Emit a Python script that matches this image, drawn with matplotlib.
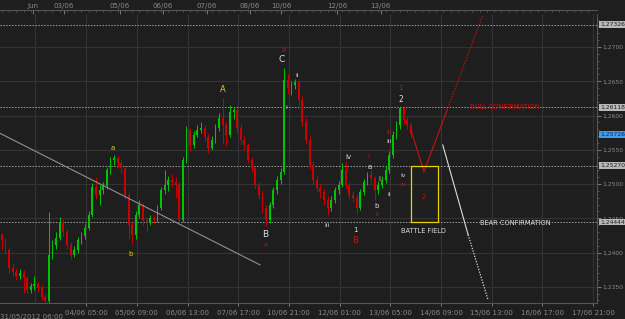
import matplotlib
matplotlib.use('Agg')
import matplotlib.pyplot as plt
import numpy as np

# 2-hour candles, EURUSD-like, 31/05/2012 .. 13/06/2012
first_open = 1.2426
closes = [1.2418, 1.2404, 1.2377, 1.2372, 1.2366, 1.2370, 1.2363, 1.2345, 1.2351, 1.2354,
          1.2348, 1.2335, 1.2329, 1.2396, 1.2411, 1.2421, 1.2445, 1.2430, 1.2411, 1.2396,
          1.2404, 1.2418, 1.2424, 1.2436, 1.2455, 1.2496, 1.2484, 1.2491, 1.2497, 1.2520,
          1.2535, 1.2538, 1.2531, 1.2523, 1.2484, 1.2440, 1.2426, 1.2455, 1.2469, 1.2447,
          1.2445, 1.2450, 1.2447, 1.2465, 1.2491, 1.2499, 1.2506, 1.2503, 1.2499, 1.2447,
          1.2535, 1.2579, 1.2557, 1.2572, 1.2579, 1.2582, 1.2569, 1.2553, 1.2564, 1.2582,
          1.2596, 1.2586, 1.2572, 1.2605, 1.2608, 1.2582, 1.2564, 1.2557, 1.2535, 1.2523,
          1.2499, 1.2484, 1.2465, 1.2447, 1.2469, 1.2491, 1.2506, 1.2518, 1.2652, 1.2640,
          1.2645, 1.2649, 1.2623, 1.2591, 1.2564, 1.2528, 1.2506, 1.2494, 1.2488, 1.2477,
          1.2465, 1.2477, 1.2491, 1.2499, 1.2520, 1.2499, 1.2484, 1.2480, 1.2465, 1.2488,
          1.2503, 1.2513, 1.2509, 1.2491, 1.2499, 1.2506, 1.2520, 1.2542, 1.2572, 1.2586,
          1.2611, 1.2593, 1.2586, 1.2573]
highs = [1.2429, 1.2421, 1.2407, 1.2385, 1.2378, 1.2376, 1.2374, 1.2366, 1.2356, 1.2365,
         1.2358, 1.2352, 1.2340, 1.2459, 1.2418, 1.2430, 1.2452, 1.2449, 1.2434, 1.2415,
         1.2410, 1.2423, 1.2430, 1.2442, 1.2460, 1.2502, 1.2510, 1.2498, 1.2503, 1.2525,
         1.2540, 1.2542, 1.2541, 1.2535, 1.2527, 1.2488, 1.2445, 1.2460, 1.2476, 1.2472,
         1.2452, 1.2455, 1.2455, 1.2470, 1.2496, 1.2520, 1.2512, 1.2515, 1.2510, 1.2503,
         1.2540, 1.2585, 1.2582, 1.2578, 1.2586, 1.2590, 1.2586, 1.2573, 1.2570, 1.2588,
         1.2603, 1.2626, 1.2590, 1.2615, 1.2613, 1.2611, 1.2588, 1.2570, 1.2560, 1.2540,
         1.2527, 1.2503, 1.2490, 1.2470, 1.2474, 1.2496, 1.2512, 1.2524, 1.2669, 1.2660,
         1.2650, 1.2654, 1.2652, 1.2628, 1.2596, 1.2570, 1.2534, 1.2512, 1.2500, 1.2493,
         1.2482, 1.2482, 1.2496, 1.2505, 1.2531, 1.2534, 1.2503, 1.2490, 1.2484, 1.2493,
         1.2508, 1.2518, 1.2520, 1.2512, 1.2504, 1.2511, 1.2526, 1.2548, 1.2577, 1.2592,
         1.2613, 1.2614, 1.2600, 1.2590]
lows = [1.2404, 1.2398, 1.2370, 1.2366, 1.2360, 1.2362, 1.2341, 1.2339, 1.2341, 1.2346,
        1.2342, 1.2330, 1.2326, 1.2327, 1.2390, 1.2405, 1.2418, 1.2424, 1.2405, 1.2390,
        1.2393, 1.2400, 1.2412, 1.2420, 1.2433, 1.2452, 1.2478, 1.2470, 1.2486, 1.2493,
        1.2515, 1.2528, 1.2524, 1.2516, 1.2478, 1.2420, 1.2413, 1.2420, 1.2450, 1.2440,
        1.2430, 1.2440, 1.2442, 1.2444, 1.2462, 1.2485, 1.2490, 1.2495, 1.2480, 1.2443,
        1.2444, 1.2530, 1.2548, 1.2552, 1.2568, 1.2574, 1.2563, 1.2545, 1.2550, 1.2560,
        1.2578, 1.2560, 1.2555, 1.2568, 1.2595, 1.2575, 1.2558, 1.2550, 1.2530, 1.2518,
        1.2494, 1.2478, 1.2458, 1.2438, 1.2443, 1.2465, 1.2486, 1.2500, 1.2515, 1.2632,
        1.2630, 1.2638, 1.2616, 1.2584, 1.2558, 1.2522, 1.2500, 1.2488, 1.2480, 1.2470,
        1.2455, 1.2460, 1.2472, 1.2486, 1.2495, 1.2492, 1.2478, 1.2474, 1.2456, 1.2462,
        1.2484, 1.2498, 1.2502, 1.2477, 1.2486, 1.2494, 1.2502, 1.2516, 1.2538, 1.2565,
        1.2580, 1.2587, 1.2580, 1.2568]

bottom_labels = ['04/06 05:00', '05/06 09:00', '06/06 13:00', '07/06 17:00', '10/06 21:00',
                 '12/06 01:00', '13/06 05:00', '14/06 09:00', '15/06 13:00', '16/06 17:00',
                 '17/06 21:00']
top_labels = ['Jun', '03/06', '05/06', '06/06', '07/06', '08/06', '10/06', '12/06', '13/06']
top_pos = [8.6, 17.2, 32.6, 44.5, 56.7, 68.6, 77.1, 92.6, 104.7]
price_ticks = [1.2350, 1.2400, 1.2450, 1.2500, 1.2550, 1.2600, 1.2650, 1.2700]
levels = [1.27326, 1.26118, 1.25270, 1.24444]
last_price = 1.25726

# drawn objects (candle index, price)
trend_line = ([-0.5, 71.3], [1.2574, 1.2382])
bull_path = ([113.0, 116.6, 123.0], [1.2579, 1.2518, 1.2608])
bull_dots = ([123.0, 132.9], [1.2608, 1.2747])
bear_path = ([121.8, 128.8], [1.2557, 1.2426])
bear_dots = ([128.8, 134.3], [1.2426, 1.2331])
box = (113.0, 120.5, 1.24444, 1.25270)

RED = '#cc1010'
WHITE = '#dcdcdc'
YEL = '#e6d200'
wave_labels = [
    (30.6, 1.2553, 'a', YEL, 5), (35.7, 1.2398, 'b', YEL, 5), (61.0, 1.2638, 'A', YEL, 6),
    (72.8, 1.2427, 'B', WHITE, 6.5), (72.8, 1.2412, 'a', RED, 4.5),
    (77.3, 1.2682, 'C', WHITE, 6.5), (77.8, 1.2695, 'b', RED, 5),
    (81.6, 1.2659, 'ii', WHITE, 4.5), (78.5, 1.2611, 'i', WHITE, 4.5),
    (89.8, 1.2439, 'iii', WHITE, 4.5), (95.7, 1.2539, 'iv', WHITE, 5),
    (101.2, 1.2540, 'i', RED, 4.5), (101.7, 1.2525, 'a', WHITE, 5),
    (104.3, 1.2507, 'i', WHITE, 5), (107.0, 1.2485, 'ii', WHITE, 4.5),
    (103.6, 1.2468, 'b', WHITE, 5), (103.6, 1.2455, 'ii', RED, 4.5),
    (97.7, 1.2433, '1', WHITE, 5), (97.7, 1.2417, 'B', RED, 6),
    (107.0, 1.2575, 'iii', RED, 4.5), (107.0, 1.2562, 'iii', WHITE, 4.5),
    (110.9, 1.2512, 'iv', WHITE, 4.5), (110.9, 1.2500, 'iv', RED, 4.5),
    (110.2, 1.2624, '2', WHITE, 5.5), (110.2, 1.2640, '1', RED, 5),
    (116.6, 1.2481, '2', RED, 5),
]

BG = '#1e1e1e'
fig = plt.figure(figsize=(6.25, 3.19), dpi=100, facecolor=BG)
ax = fig.add_axes([0, 16 / 319, 597 / 625, 289 / 319], facecolor=BG)
ax.set_xlim(-0.5, 164.4)
ax.set_ylim(1.23263, 1.27482)

grid_x = [9.3 + 14 * k for k in range(12)]
for gx in grid_x:
    ax.axvline(gx, color='#333333', lw=0.8, zorder=0)
for p in price_ticks:
    ax.axhline(p, color='#333333', lw=0.8, zorder=0)
for lv in levels:
    ax.axhline(lv, color='#a0a0a0', lw=0.7, ls=(0, (1.5, 1.5)), zorder=1)

# candles
opens = [first_open] + closes[:-1]
idx = np.arange(len(closes))
cols = ['#00c400' if c >= o else '#cc0000' for o, c in zip(opens, closes)]
ax.vlines(idx, lows, highs, colors=cols, lw=0.7, zorder=2)
body_b = np.minimum(opens, closes)
body_h = np.maximum(np.abs(np.array(closes) - np.array(opens)), 0.00006)
ax.bar(idx, body_h, bottom=body_b, width=0.5, color=cols, lw=0, zorder=3)

# overlays
ax.plot(*trend_line, color='#909090', lw=0.8, zorder=4)
ax.plot(*bull_path, color=RED, lw=0.8, zorder=4)
ax.plot(*bull_dots, color=RED, lw=0.9, ls=(0, (1, 1.2)), zorder=4)
ax.plot(*bear_path, color=WHITE, lw=0.8, zorder=4)
ax.plot(*bear_dots, color=WHITE, lw=0.9, ls=(0, (1, 1.2)), zorder=4)
x0, x1, y0, y1 = box
ax.plot([x0, x1, x1, x0, x0], [y0, y0, y1, y1, y0], color=YEL, lw=0.9, zorder=4)

for x, y, t, c, s in wave_labels:
    ax.text(x, y, t, color=c, fontsize=s, ha='center', va='center', zorder=5)
ax.text(116.4, 1.2431, 'BATTLE FIELD', color=WHITE, fontsize=4.8, ha='center', va='center')
ax.text(141.8, 1.2443, 'BEAR CONFIRMATION', color=WHITE, fontsize=4.8, ha='center', va='center')
ax.text(139.0, 1.2612, 'BULL CONFIRMATION', color=RED, fontsize=4.8, ha='center', va='center')

# axes styling
for sp in ['left', 'top']:
    ax.spines[sp].set_visible(False)
for sp in ['right', 'bottom']:
    ax.spines[sp].set_color('#555555')
    ax.spines[sp].set_linewidth(0.8)
ax.yaxis.tick_right()
ax.set_yticks(price_ticks)
ax.set_yticklabels([('%.4f' % p).replace('.', ',') for p in price_ticks])
ax.set_yticks(np.arange(1.2330, 1.2750, 0.001), minor=True)
ax.tick_params(axis='y', which='major', colors='#8a8a8a', labelsize=4.3, length=3, pad=1, width=0.6)
ax.tick_params(axis='y', which='minor', color='#666666', length=1.5, width=0.5)
ax.set_xticks(grid_x[1:])
ax.set_xticklabels(bottom_labels)
ax.tick_params(axis='x', colors='#8a8a8a', labelsize=5, length=2, pad=3, width=0.6)
ax.text(-0.5, -0.038, '31/05/2012 06:00', transform=ax.get_xaxis_transform(),
        color='#8a8a8a', fontsize=5, ha='left', va='top')

# boxed price markers on right axis
for lv in levels:
    ax.text(1.005, lv, ('%.5f' % lv).replace('.', ','), transform=ax.get_yaxis_transform(),
            fontsize=4.3, color='#202020', va='center', ha='left', zorder=10,
            bbox=dict(boxstyle='square,pad=0.12', fc='#b8b8b8', ec='none'))
ax.text(1.005, last_price, ('%.5f' % last_price).replace('.', ','),
        transform=ax.get_yaxis_transform(), fontsize=4.3, color='#0a2a55', va='center', ha='left',
        zorder=10, bbox=dict(boxstyle='square,pad=0.12', fc='#3d9bf0', ec='none'))

# top daily ruler
top = ax.secondary_xaxis(1.014)
top.set_xticks(top_pos)
top.set_xticklabels(top_labels)
top.set_xticks(np.arange(0, 164, 2), minor=True)
top.tick_params(axis='x', which='major', direction='in', colors='#8a8a8a', labelsize=5,
                length=3, pad=1, width=0.6)
top.tick_params(axis='x', which='minor', direction='in', color='#666666', length=1.5, width=0.5)
top.spines['top'].set_color('#555555')
top.spines['top'].set_linewidth(0.8)

fig.savefig('out.png', dpi=100, facecolor=BG)
